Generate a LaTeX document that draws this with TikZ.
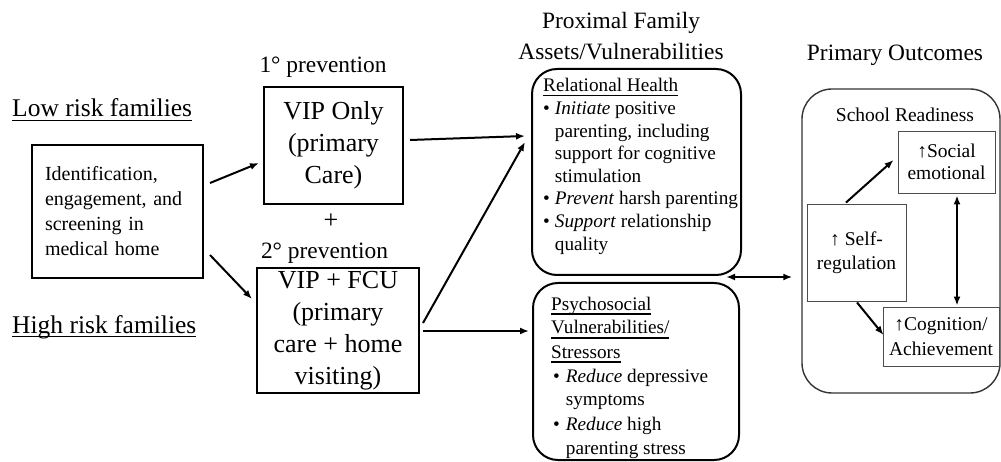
\documentclass[tikz,border=0pt]{standalone}
\usepackage{fontspec}
\setmainfont{Liberation Serif}
\usetikzlibrary{arrows.meta}
\newsavebox{\ulinebox}
\newcommand{\undertext}[1]{\sbox{\ulinebox}{#1}\rlap{\rule[-4.5pt]{\wd\ulinebox}{1.1pt}}\usebox{\ulinebox}}

\begin{document}
\begin{tikzpicture}[x=1pt, y=-1pt,
    box/.style={draw, line width=2pt, inner sep=0pt},
    roundbox/.style={draw, line width=2pt, rounded corners=25pt, inner sep=0pt},
    outbox/.style={draw=black!80, line width=1.4pt, rounded corners=30pt, inner sep=0pt},
    thinbox/.style={draw=black!70, line width=0.9pt, inner sep=0pt, align=center},
    bigtxt/.style={font=\fontsize{26}{32}\selectfont},
    headtxt/.style={font=\fontsize{23.4}{31}\selectfont},
    sidetxt/.style={font=\fontsize{25.5}{30}\selectfont, inner sep=0pt},
    smalltxt/.style={font=\fontsize{20}{25}\selectfont},
    listtxt/.style={font=\fontsize{19.2}{22.6}\selectfont, inner sep=0pt},
    arr/.style={-{Latex[length=9pt,width=7pt]}},
    dblarr/.style={{Latex[length=9pt,width=7pt]}-{Latex[length=9pt,width=7pt]}}]
    \useasboundingbox (0,0) rectangle (1001,462);

    % risk groups
    \node[sidetxt, anchor=base west] (lowrisk) at (12,117) {\undertext{Low risk families}};
    \node[sidetxt, anchor=base west] (highrisk) at (12,333) {\undertext{High risk families}};
    \node[box, smalltxt, minimum width=171pt, minimum height=133pt, text width=145pt, align=left] (idbox) at (117.5,211.5)
        {Identification,\\ engagement, and\\ screening in\\ medical home};

    % prevention levels
    \node[headtxt] (prev1) at (323,67) {1° prevention};
    \node[box, bigtxt, minimum width=139pt, minimum height=117pt, align=center] (viponly) at (333.5,145.5)
        {VIP Only\\(primary\\Care)};
    \node[bigtxt] (plus) at (331,221) {+};
    \node[headtxt] (prev2) at (324.5,253) {2° prevention};
    \node[box, bigtxt, minimum width=162pt, minimum height=125pt, align=center] (vipfcu) at (338,330.5)
        {VIP + FCU\\(primary\\care + home\\visiting)};

    % proximal family assets
    \node[headtxt, align=center] (proximal) at (621,36.5) {Proximal Family\\Assets/Vulnerabilities};
    \node[roundbox, minimum width=209pt, minimum height=206pt] (relhealth) at (636.5,172) {};
    \node[listtxt, anchor=base west] (relhealthtxt) at (543,92)
        {\begin{tabular}[t]{@{}l@{\hspace{5pt}}l@{}}
            \multicolumn{2}{@{}l@{}}{\undertext{Relational Health}}\\
            \textbullet & \textit{Initiate} positive\\
                        & parenting, including\\
                        & support for cognitive\\
                        & stimulation\\
            \textbullet & \textit{Prevent} harsh parenting\\
            \textbullet & \textit{Support} relationship\\
                        & quality
        \end{tabular}};
    \node[roundbox, minimum width=206pt, minimum height=177pt] (psych) at (636,371.5) {};
    \node[listtxt, font=\fontsize{19.2}{24}\selectfont, anchor=base west] (psychtxt) at (551,310)
        {\begin{tabular}[t]{@{}l@{\hspace{6pt}}l@{}}
            \multicolumn{2}{@{}l@{}}{\undertext{Psychosocial}}\\
            \multicolumn{2}{@{}l@{}}{\undertext{Vulnerabilities/}}\\
            \multicolumn{2}{@{}l@{}}{\undertext{Stressors}}\\
            \hspace{2pt}\textbullet & \textit{Reduce} depressive\\
                                    & symptoms\\
            \hspace{2pt}\textbullet & \textit{Reduce} high\\
                                    & parenting stress
        \end{tabular}};

    % outcomes
    \node[headtxt] (primary) at (895,55) {Primary Outcomes};
    \node[outbox, minimum width=198pt, minimum height=304pt] (outcomes) at (901,241) {};
    \node[listtxt, font=\fontsize{19.5}{23}\selectfont] (readiness) at (905,115) {School Readiness};
    \node[thinbox, font=\fontsize{19.5}{22}\selectfont, minimum width=97pt, minimum height=62pt] (social) at (946.5,162)
        {↑Social\\emotional};
    \node[thinbox, font=\fontsize{19.5}{24}\selectfont, minimum width=99pt, minimum height=97pt] (selfreg) at (856.5,252.5)
        {↑ Self-\\regulation};
    \node[thinbox, font=\fontsize{19.5}{25}\selectfont, minimum width=116pt, minimum height=59pt] (cognition) at (941,336.5)
        {↑Cognition/\\Achievement};

    \draw[-, line width=2pt]
    ([shift={(6,-28.5)}]idbox.east) edge[arr] ([shift={(-4,17.5)}]viponly.west)
    ([shift={(6,43.5)}]idbox.east) edge[arr] ([shift={(-4,-31.5)}]vipfcu.west)
    ([shift={(6,-5.5)}]viponly.east) edge[arr] ([shift={(-6,-36)}]relhealth.west)
    ([shift={(3,-7.5)}]vipfcu.east) edge[arr] ([shift={(-6,-30)}]relhealth.west)
    ([shift={(3,0.5)}]vipfcu.east) edge[arr] ([shift={(-3,-40.5)}]psych.west)
    ([shift={(-10.5,-1)}]selfreg.north) edge[arr] ([shift={(-4,-2)}]social.west)
    ([shift={(0.5,1)}]selfreg.south) edge[arr] ([shift={(1,-1.5)}]cognition.west)
    ([shift={(-16,105)}]relhealth.east) edge[dblarr] ([shift={(-9,36)}]outcomes.west)
    ([shift={(10.5,2)}]social.south) edge[dblarr] ([shift={(16,-1)}]cognition.north);

\end{tikzpicture}
\end{document}
